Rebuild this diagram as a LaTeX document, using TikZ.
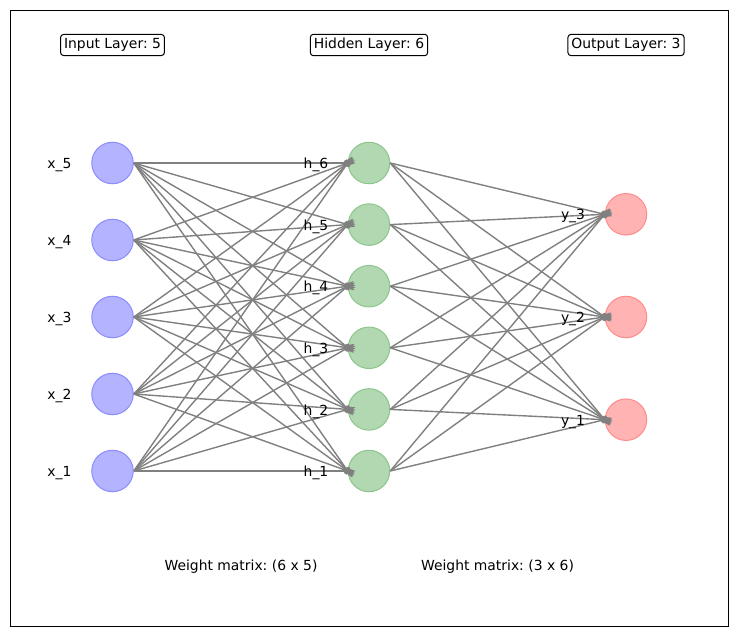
\documentclass[tikz,border=0pt]{standalone}
\usepackage{fontspec}
\setmainfont{DejaVu Sans}
\frenchspacing
\usetikzlibrary{arrows.meta}
\definecolor{infill}{HTML}{B3B3FF}
\definecolor{inedge}{HTML}{8C8CFF}
\definecolor{hidfill}{HTML}{B2D8B2}
\definecolor{hidedge}{HTML}{8CC68C}
\definecolor{outfill}{HTML}{FFB3B3}
\definecolor{outedge}{HTML}{FF8C8C}
\definecolor{conngray}{HTML}{808080}
\begin{document}
\begin{tikzpicture}[x=1pt,y=-1pt,
  neuron/.style={circle,minimum size=41.5pt,inner sep=0pt,line width=1pt},
  inp/.style={neuron,draw=inedge,fill=infill},
  hid/.style={neuron,draw=hidedge,fill=hidfill},
  outp/.style={neuron,draw=outedge,fill=outfill},
  conn/.style={draw=conngray,line width=1.4pt,-{Triangle[length=10pt,width=7pt]},shorten >=-8pt},
  txt/.style={font=\fontsize{13.9}{16}\selectfont,inner sep=0pt,yshift=-2pt},
  layerbox/.style={txt,draw,rounded corners=3pt,fill=white,line width=1pt,inner xsep=3.5pt,inner ysep=4pt,yshift=1pt}
]
\useasboundingbox (0,0) rectangle (738,636);
\draw[line width=0.8pt] (10,10) rectangle (728,626);

% layer titles
\node[layerbox] (tin) at (112.5,44) {Input Layer: 5};
\node[layerbox] (thid) at (369,44) {Hidden Layer: 6};
\node[layerbox] (tout) at (626,44) {Output Layer: 3};

% neurons
\foreach \i/\y in {1/471,2/394,3/317,4/240,5/163}
  \node[inp] (i\i) at (112.5,\y) {};
\foreach \i/\y in {1/471,2/409.4,3/347.8,4/286.2,5/224.6,6/163}
  \node[hid] (h\i) at (369,\y) {};
\foreach \i/\y in {1/419.7,2/317,3/214.3}
  \node[outp] (o\i) at (626,\y) {};

% connections
\foreach \i in {1,...,5}
  \foreach \j in {1,...,6}
    \draw[conn] (i\i.east) -- (h\j.west);
\foreach \i in {1,...,6}
  \foreach \j in {1,...,3}
    \draw[conn] (h\i.east) -- (o\j.west);

% neuron labels
\foreach \i/\y in {1/471,2/394,3/317,4/240,5/163}
  \node[txt] (li\i) at (59.5,\y) {x\_\i};
\foreach \i/\y in {1/471,2/409.4,3/347.8,4/286.2,5/224.6,6/163}
  \node[txt] (lh\i) at (316,\y) {h\_\i};
\foreach \i/\y in {1/419.7,2/317,3/214.3}
  \node[txt] (lo\i) at (573,\y) {y\_\i};

% weight matrix texts
\node[txt] (w1) at (241,565) {Weight matrix: (6 x 5)};
\node[txt] (w2) at (497.5,565) {Weight matrix: (3 x 6)};
\end{tikzpicture}
\end{document}
